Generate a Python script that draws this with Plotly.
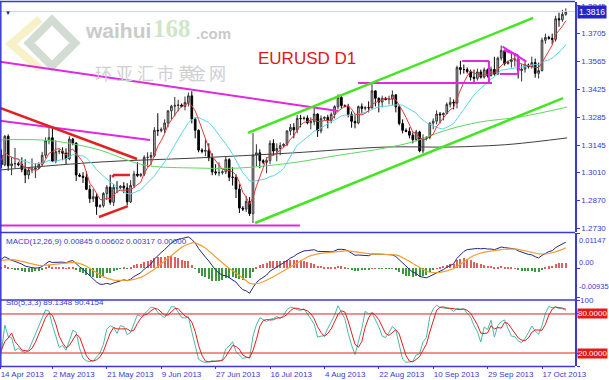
import numpy as np
import pandas as pd
import plotly.graph_objects as go

# ---------------- data ----------------
dates = pd.date_range("2013-04-14", "2013-10-25", freq="D")
dates = dates[dates.dayofweek != 5]          # MT4 feed with Sunday bars, no Saturdays

opens = [1.3113,1.3095,1.3047,1.3190,1.3042,1.3052, 1.3053,1.3048,1.3024,1.2996,1.3021,1.3025,
         1.3031,1.3050,1.3095,1.3168,1.3183,1.3065, 1.3113,1.3115,1.3105,1.3077,1.3176,1.3156,
         1.2996,1.2990,1.2985,1.2924,1.2877,1.2887, 1.2838,1.2842,1.2903,1.2935,1.2859,1.2934,
         1.2932,1.2940,1.2931,1.2861,1.2944,1.3001, 1.2993,1.3000,1.3085,1.3085,1.3094,1.3220,
         1.3218,1.3225,1.3257,1.3318,1.3341,1.3345, 1.3347,1.3340,1.3360,1.3393,1.3276,1.3220,
         1.3121,1.3115,1.3119,1.3082,1.3012,1.3007, 1.3008,1.3012,1.3073,1.2985,1.2984,1.2925,
         1.2830,1.2825,1.2863,1.2802,1.3096,1.3107, 1.3068,1.3060,1.3068,1.3155,1.3116,1.3129,
         1.3143,1.3150,1.3217,1.3235,1.3222,1.3280, 1.3279,1.3282,1.3258,1.3263,1.3302,1.3217,
         1.3280,1.3285,1.3270,1.3300,1.3339,1.3385, 1.3344,1.3340,1.3300,1.3265,1.3257,1.3339,
         1.3330,1.3335,1.3334,1.3418,1.3381,1.3362, 1.3380,1.3375,1.3377,1.3398,1.3338,1.3254,
         1.3220,1.3215,1.3196,1.3173,1.3212,1.3117, 1.3180,1.3185,1.3256,1.3266,1.3302,1.3298,
         1.3305,1.3350,1.3361,1.3357,1.3535,1.3525, 1.3525,1.3515,1.3487,1.3481,1.3513,1.3487,
         1.3524,1.3495,1.3526,1.3502,1.3582,1.3620, 1.3555,1.3565,1.3573,1.3577,1.3520,1.3527,
         1.3548,1.3540,1.3560,1.3506,1.3520,1.3672, 1.3686,1.3682,1.3677,1.3780,1.3775,1.3802]
highs = [1.3120,1.3125,1.3197,1.3200,1.3087,1.3132, 1.3062,1.3085,1.3075,1.3035,1.3080,1.3055,
         1.3060,1.3112,1.3185,1.3243,1.3242,1.3170, 1.3125,1.3135,1.3130,1.3190,1.3182,1.3160,
         1.3005,1.3010,1.3015,1.2945,1.2925,1.2905, 1.2850,1.2910,1.2945,1.2997,1.2950,1.2965,
         1.2945,1.2960,1.2955,1.2970,1.3017,1.3060, 1.3005,1.3095,1.3110,1.3111,1.3236,1.3306,
         1.3235,1.3275,1.3320,1.3348,1.3388,1.3373, 1.3355,1.3390,1.3410,1.3416,1.3285,1.3225,
         1.3130,1.3175,1.3155,1.3105,1.3050,1.3059, 1.3020,1.3090,1.3080,1.3035,1.3000,1.2950,
         1.2840,1.2890,1.2885,1.3207,1.3150,1.3125, 1.3075,1.3085,1.3170,1.3175,1.3155,1.3160,
         1.3155,1.3220,1.3252,1.3256,1.3297,1.3298, 1.3290,1.3295,1.3285,1.3345,1.3305,1.3295,
         1.3290,1.3298,1.3310,1.3346,1.3400,1.3392, 1.3350,1.3353,1.3315,1.3300,1.3345,1.3355,
         1.3340,1.3365,1.3452,1.3420,1.3385,1.3394, 1.3388,1.3394,1.3420,1.3400,1.3345,1.3275,
         1.3230,1.3235,1.3210,1.3223,1.3218,1.3200, 1.3190,1.3260,1.3280,1.3320,1.3312,1.3310,
         1.3360,1.3386,1.3375,1.3545,1.3569,1.3550, 1.3535,1.3525,1.3525,1.3530,1.3525,1.3535,
         1.3530,1.3540,1.3589,1.3590,1.3646,1.3625, 1.3570,1.3610,1.3606,1.3585,1.3552,1.3570,
         1.3555,1.3590,1.3580,1.3560,1.3685,1.3705, 1.3695,1.3705,1.3795,1.3810,1.3825,1.3832]
lows = [1.3085,1.3030,1.3040,1.3017,1.2995,1.3030, 1.3040,1.3010,1.2955,1.2975,1.3005,1.2980,
        1.3025,1.3040,1.3080,1.3150,1.3062,1.3055, 1.3100,1.3070,1.3050,1.3070,1.3145,1.2966,
        1.2985,1.2956,1.2920,1.2855,1.2860,1.2796, 1.2830,1.2833,1.2870,1.2847,1.2840,1.2905,
        1.2925,1.2905,1.2845,1.2855,1.2930,1.2985, 1.2985,1.2990,1.3035,1.3045,1.3085,1.3192,
        1.3210,1.3205,1.3235,1.3275,1.3290,1.3315, 1.3335,1.3320,1.3340,1.3255,1.3180,1.3110,
        1.3105,1.3090,1.3065,1.2995,1.2995,1.2990, 1.2998,1.3000,1.2965,1.2943,1.2880,1.2805,
        1.2815,1.2810,1.2790,1.2755,1.3040,1.3030, 1.3050,1.3005,1.3050,1.3095,1.3065,1.3095,
        1.3135,1.3140,1.3195,1.3180,1.3205,1.3235, 1.3270,1.3250,1.3225,1.3245,1.3187,1.3205,
        1.3270,1.3230,1.3255,1.3280,1.3325,1.3330, 1.3335,1.3285,1.3233,1.3230,1.3250,1.3305,
        1.3320,1.3310,1.3325,1.3340,1.3310,1.3335, 1.3370,1.3350,1.3345,1.3310,1.3245,1.3205,
        1.3210,1.3180,1.3155,1.3165,1.3110,1.3104, 1.3170,1.3175,1.3225,1.3250,1.3255,1.3270,
        1.3300,1.3335,1.3325,1.3330,1.3500,1.3505, 1.3505,1.3470,1.3460,1.3470,1.3480,1.3480,
        1.3485,1.3490,1.3495,1.3500,1.3570,1.3545, 1.3550,1.3535,1.3540,1.3480,1.3465,1.3510,
        1.3530,1.3530,1.3484,1.3480,1.3515,1.3655, 1.3675,1.3650,1.3665,1.3740,1.3765,1.3795]
closes = [1.3095,1.3047,1.3190,1.3042,1.3052,1.3053, 1.3048,1.3024,1.2996,1.3021,1.3025,1.3031,
          1.3050,1.3095,1.3168,1.3183,1.3065,1.3113, 1.3115,1.3105,1.3077,1.3176,1.3156,1.2996,
          1.2990,1.2985,1.2924,1.2877,1.2887,1.2838, 1.2842,1.2903,1.2935,1.2859,1.2934,1.2932,
          1.2940,1.2931,1.2861,1.2944,1.3001,1.2993, 1.3000,1.3085,1.3085,1.3094,1.3220,1.3218,
          1.3225,1.3257,1.3318,1.3341,1.3345,1.3347, 1.3340,1.3360,1.3393,1.3276,1.3220,1.3121,
          1.3115,1.3119,1.3082,1.3012,1.3007,1.3008, 1.3012,1.3073,1.2985,1.2984,1.2925,1.2830,
          1.2825,1.2863,1.2802,1.3096,1.3107,1.3068, 1.3060,1.3068,1.3155,1.3116,1.3129,1.3143,
          1.3150,1.3217,1.3235,1.3222,1.3280,1.3279, 1.3282,1.3258,1.3263,1.3302,1.3217,1.3280,
          1.3285,1.3270,1.3300,1.3339,1.3385,1.3344, 1.3340,1.3300,1.3265,1.3257,1.3339,1.3330,
          1.3335,1.3334,1.3418,1.3381,1.3362,1.3380, 1.3375,1.3377,1.3398,1.3338,1.3254,1.3220,
          1.3215,1.3196,1.3173,1.3212,1.3117,1.3180, 1.3185,1.3256,1.3266,1.3302,1.3298,1.3305,
          1.3350,1.3361,1.3357,1.3535,1.3525,1.3525, 1.3515,1.3487,1.3481,1.3513,1.3487,1.3524,
          1.3495,1.3526,1.3502,1.3582,1.3620,1.3555, 1.3565,1.3573,1.3577,1.3520,1.3527,1.3548,
          1.3540,1.3560,1.3506,1.3520,1.3672,1.3686, 1.3682,1.3677,1.3780,1.3775,1.3802,1.3816]

# long moving averages (bar index, price)
ma_green_idx = [0.6, 12.4, 20.3, 30, 39.7, 44.7, 58, 71, 86, 100.6, 113.8, 122, 132, 141.8, 153.5, 167.4]
ma_green_val = [1.3172, 1.3172, 1.3157, 1.3121, 1.3061, 1.3041, 1.3031, 1.3031, 1.3056, 1.3096,
                1.3131, 1.3162, 1.3222, 1.3262, 1.3287, 1.3337]
ma_black_idx = [0.6, 30, 58, 86, 113.8, 132, 141.8, 151.5, 167.4]
ma_black_val = [1.3021, 1.3061, 1.3081, 1.3106, 1.3136, 1.3136, 1.3141, 1.3151, 1.3182]

# MACD state at the left edge
macd_start, signal_start = 0.0035, 0.0025

# drawn objects: (bar0, price0, bar1, price1)
magenta_lines = [(0.59, 1.3564, 100.0, 1.3317), (0.59, 1.3268, 44.7, 1.3172),
                 (0.59, 1.2742, 88.8, 1.2742), (105.9, 1.3458, 145.3, 1.3458),
                 (136.5, 1.3568, 144.4, 1.3568), (144.4, 1.3568, 144.4, 1.3458),
                 (148.4, 1.3640, 155.4, 1.3565), (148.8, 1.3622, 153.0, 1.3597),
                 (153.0, 1.3597, 153.0, 1.3503), (147.6, 1.3503, 153.0, 1.3503)]
red_lines = [(0.59, 1.3332, 40.9, 1.3076), (33.8, 1.2996, 38.8, 1.2996),
             (33.8, 1.2996, 33.8, 1.2984), (29.7, 1.2785, 38.2, 1.2840)]
green_lines = [(73.5, 1.3207, 157.4, 1.3784), (75.6, 1.2755, 166.2, 1.3382)]

price_ticks = [1.3845, 1.3705, 1.3565, 1.3425, 1.3285, 1.3145, 1.3010, 1.2870, 1.2730]
date_labels = ["14 Apr 2013", "2 May 2013", "21 May 2013", "9 Jun 2013", "27 Jun 2013", "16 Jul 2013",
               "4 Aug 2013", "22 Aug 2013", "10 Sep 2013", "29 Sep 2013", "17 Oct 2013"]
macd_labels = ["0.01147", "0.00", "-0.00935"]
macd_title = "MACD(12,26,9) 0.00845 0.00602 0.00317 0.00000"
sto_title = "Sto(5,3,3) 89.1348 90.4154"

# ---------------- indicators ----------------
c = pd.Series(closes)
hi = pd.Series(highs)
lo = pd.Series(lows)
idx = np.arange(len(dates))

ma_red = c.rolling(5, min_periods=1).mean()
ma_cyan = c.rolling(14, min_periods=1).mean()

e12 = [closes[0] - 0.0020]
e26 = [e12[0] - macd_start]
for v in closes[1:]:
    e12.append(e12[-1] + 2 / 13 * (v - e12[-1]))
    e26.append(e26[-1] + 2 / 27 * (v - e26[-1]))
macd = np.array(e12) - np.array(e26)
sig = [signal_start]
for v in macd[1:]:
    sig.append(sig[-1] + 2 / 10 * (v - sig[-1]))
sig = np.array(sig)
hist = macd - sig

lo5 = lo.rolling(5, min_periods=1).min()
hi5 = hi.rolling(5, min_periods=1).max()
k = 100 * (c - lo5).rolling(3, min_periods=1).sum() / (hi5 - lo5).rolling(3, min_periods=1).sum()
d = k.rolling(3, min_periods=1).mean()

# ---------------- layout helpers ----------------
W, H, PW = 609, 380, 575
BLUE = "#3a3ad0"
FONT = "Liberation Sans"


def pxx(x):
    return x / PW


def pyy(y):
    return 1 - y / H


x_lo, x_hi = (0 + 2) / 3.4, (PW + 2) / 3.4
main_rng = [1.2730 - 4 / 1993, 1.2730 + 226 / 1993]
macd_rng = [(268.3 - 300) / 3074, (268.3 - 233) / 3074]
sto_rng = [0, 101.5]

fig = go.Figure()

fig.add_trace(go.Candlestick(
    x=idx, open=opens, high=highs, low=lows, close=closes,
    increasing=dict(line=dict(color="#333333", width=1), fillcolor="#c4c4c4"),
    decreasing=dict(line=dict(color="#000000", width=1), fillcolor="#000000"),
    whiskerwidth=0, showlegend=False, xaxis="x", yaxis="y"))
fig.add_trace(go.Scatter(x=ma_black_idx, y=ma_black_val, mode="lines", line=dict(color="#404040", width=1),
                         line_shape="spline", xaxis="x", yaxis="y", showlegend=False))
fig.add_trace(go.Scatter(x=ma_green_idx, y=ma_green_val, mode="lines", line=dict(color="#62d462", width=1),
                         line_shape="spline", xaxis="x", yaxis="y", showlegend=False))
fig.add_trace(go.Scatter(x=idx, y=ma_cyan, mode="lines", line=dict(color="#5cd6e6", width=1),
                         xaxis="x", yaxis="y", showlegend=False))
fig.add_trace(go.Scatter(x=idx, y=ma_red, mode="lines", line=dict(color="#e03a3a", width=1),
                         xaxis="x", yaxis="y", showlegend=False))

# MACD
fig.add_trace(go.Bar(x=idx, y=hist, width=0.35,
                     marker=dict(color=["#e06060" if v >= 0 else "#3a9a3a" for v in hist], line=dict(width=0)),
                     xaxis="x2", yaxis="y2", showlegend=False))
fig.add_trace(go.Scatter(x=idx, y=macd, mode="lines", line=dict(color="#26268a", width=1),
                         xaxis="x2", yaxis="y2", showlegend=False))
fig.add_trace(go.Scatter(x=idx, y=sig, mode="lines", line=dict(color="#f0a030", width=1.2),
                         xaxis="x2", yaxis="y2", showlegend=False))

# Stochastic
fig.add_trace(go.Scatter(x=idx, y=k, mode="lines", line=dict(color="#4ab8a8", width=1),
                         xaxis="x3", yaxis="y3", showlegend=False))
fig.add_trace(go.Scatter(x=idx, y=d, mode="lines", line=dict(color="#e02020", width=1),
                         xaxis="x3", yaxis="y3", showlegend=False))

shapes = []
# current price line
shapes.append(dict(type="line", xref="x", yref="y", x0=x_lo, x1=x_hi, y0=closes[-1], y1=closes[-1],
                   line=dict(color="#f6c8b0", width=1)))
for (a0, b0, a1, b1) in magenta_lines:
    shapes.append(dict(type="line", xref="x", yref="y", x0=a0, y0=b0, x1=a1, y1=b1,
                       line=dict(color="#e028e0", width=2)))
for (a0, b0, a1, b1) in red_lines:
    shapes.append(dict(type="line", xref="x", yref="y", x0=a0, y0=b0, x1=a1, y1=b1,
                       line=dict(color="#e02222", width=2.5)))
for (a0, b0, a1, b1) in green_lines:
    shapes.append(dict(type="line", xref="x", yref="y", x0=a0, y0=b0, x1=a1, y1=b1,
                       line=dict(color="#44e622", width=2.5)))
# stochastic levels
for lvl in (80, 20):
    shapes.append(dict(type="line", xref="x3", yref="y3", x0=x_lo, x1=x_hi, y0=lvl, y1=lvl,
                       line=dict(color="#e02020", width=1)))
# watermark logo
shapes.append(dict(type="path", xref="paper", yref="paper", layer="below",
                   path=f"M {pxx(40)},{pyy(19)} L {pxx(11)},{pyy(44)} L {pxx(40)},{pyy(69)}",
                   line=dict(color="#f7f1c8", width=8)))
shapes.append(dict(type="path", xref="paper", yref="paper", layer="below",
                   path=f"M {pxx(52)},{pyy(20)} L {pxx(75)},{pyy(43)} L {pxx(52)},{pyy(66)} L {pxx(29)},{pyy(43)} Z",
                   line=dict(color="#d2dcd2", width=8)))
# panel borders
for y in (1.5, 232.5, 300, 366.5):
    shapes.append(dict(type="line", xref="paper", yref="paper", x0=0, x1=1, y0=pyy(y), y1=pyy(y),
                       line=dict(color=BLUE, width=1.5)))
shapes.append(dict(type="line", xref="paper", yref="paper", x0=pxx(0.8), x1=pxx(0.8), y0=pyy(1.5), y1=pyy(366.5),
                   line=dict(color=BLUE, width=1.5)))

ann = []
lab = dict(family=FONT, size=8, color=BLUE)
ann.append(dict(xref="paper", yref="paper", x=pxx(307), y=pyy(47), text="EURUSD D1", showarrow=False,
                font=dict(family="Liberation Sans", size=17, color="#e01818")))
ann.append(dict(xref="paper", yref="paper", x=pxx(83), y=pyy(44), xanchor="left", yanchor="bottom",
                text="<b>waihui</b>", showarrow=False, font=dict(family="Liberation Sans", size=21, color="#cacaca")))
ann.append(dict(xref="paper", yref="paper", x=pxx(151), y=pyy(44), xanchor="left", yanchor="bottom",
                text="<b>168</b>", showarrow=False, font=dict(family="Liberation Serif", size=25, color="#cfe6c8")))
ann.append(dict(xref="paper", yref="paper", x=pxx(194), y=pyy(44), xanchor="left", yanchor="bottom",
                text="<b>.com</b>", showarrow=False, font=dict(family="Liberation Sans", size=15, color="#cacaca")))
for j, ch in enumerate("环亚汇市黄金网"):
    ann.append(dict(xref="paper", yref="paper", x=pxx(93 + 20.8 * j), y=pyy(58), text=ch, showarrow=False,
                    font=dict(family="Noto Sans CJK SC", size=17, color="#d0d0d0")))
ann.append(dict(xref="paper", yref="paper", x=pxx(3), y=pyy(7), xanchor="left", text="▼", showarrow=False,
                font=dict(size=6, color="#20208a")))
ann.append(dict(xref="paper", yref="paper", x=pxx(4), y=pyy(241), xanchor="left", text=macd_title,
                showarrow=False, font=lab))
ann.append(dict(xref="paper", yref="paper", x=pxx(4), y=pyy(308.5), xanchor="left", text=sto_title,
                showarrow=False, font=lab))
for t, y in zip(macd_labels, (240, 269, 293)):
    ann.append(dict(xref="paper", yref="paper", x=pxx(577), y=pyy(y), xanchor="left", text=t,
                    showarrow=False, font=dict(family=FONT, size=7.5, color=BLUE)))
for t, y in (("100", 306.5), ("0", 362)):
    ann.append(dict(xref="paper", yref="paper", x=pxx(578), y=pyy(y), xanchor="left", text=t,
                    showarrow=False, font=lab))
for lvl in (80, 20):
    ann.append(dict(xref="paper", yref="y3", x=pxx(577), y=lvl, xanchor="left", text=f"{lvl:.4f}",
                    showarrow=False, bgcolor="#e41818", borderpad=0,
                    font=dict(family=FONT, size=8, color="white")))
ann.append(dict(xref="paper", yref="y", x=pxx(577), y=closes[-1], xanchor="left", text=f"{closes[-1]:.4f}",
                showarrow=False, bgcolor="#2424c8", borderpad=1,
                font=dict(family=FONT, size=8.5, color="white")))

tick_pos = [max(i, x_lo + 0.05) for i in range(0, 161, 16)]

xcommon = dict(range=[x_lo, x_hi], showgrid=False, zeroline=False, showline=False, fixedrange=True,
               automargin=False)
ycommon = dict(side="right", showgrid=False, zeroline=False, showline=True, linecolor=BLUE, linewidth=1.5,
               ticks="outside", ticklen=3, tickcolor=BLUE, automargin=False, fixedrange=True)
fig.update_layout(
    width=W, height=H, margin=dict(l=0, r=W - PW, t=0, b=0, autoexpand=False),
    paper_bgcolor="white", plot_bgcolor="white", showlegend=False, bargap=0,
    shapes=shapes, annotations=ann,
    xaxis=dict(domain=[0, 1], anchor="y", showticklabels=False, rangeslider=dict(visible=False), **xcommon),
    xaxis2=dict(domain=[0, 1], anchor="y2", showticklabels=False, matches="x", **xcommon),
    xaxis3=dict(domain=[0, 1], anchor="y3", matches="x", tickvals=tick_pos, ticktext=date_labels,
                ticks="outside", ticklen=2, tickcolor=BLUE, ticklabelposition="outside right", tickangle=0,
                tickfont=dict(family=FONT, size=8, color=BLUE), **xcommon),
    yaxis=dict(domain=[pyy(232), pyy(2)], range=main_rng, anchor="x",
               tickvals=price_ticks, ticktext=[f"{v:.4f}" for v in price_ticks],
               tickfont=dict(family=FONT, size=8, color=BLUE), **ycommon),
    yaxis2=dict(domain=[pyy(300), pyy(233)], range=macd_rng, anchor="x2",
                tickvals=[0.01147, 0.0, -0.00935], showticklabels=False, **ycommon),
    yaxis3=dict(domain=[pyy(366), pyy(300)], range=sto_rng, anchor="x3",
                tickvals=[100, 80, 20, 0], showticklabels=False, **ycommon),
)

fig.write_html("out.html")
